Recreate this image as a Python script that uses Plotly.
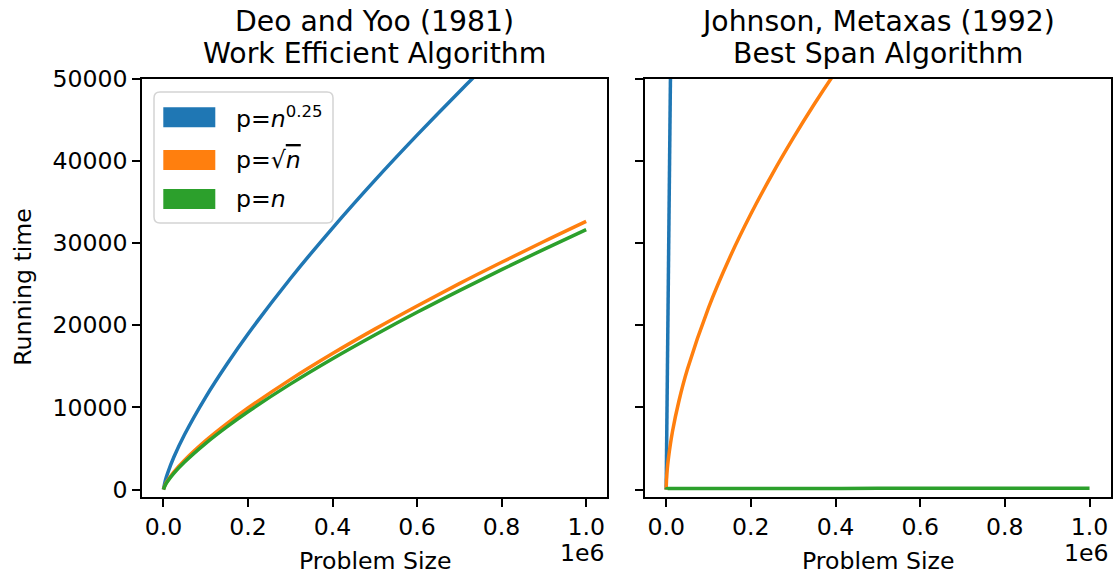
import plotly.graph_objects as go

W, H = 1114, 581
FONT = "DejaVu Sans"
BLUE, ORANGE, GREEN = "#1f77b4", "#ff7f0e", "#2ca02c"

# ---- Deo and Yoo (1981): running time vs problem size ----
deo_n = [0, 5000, 10000, 25000, 50000, 100000, 150000, 200000, 300000,
         400000, 500000, 600000, 700000, 800000, 900000, 1000000]
deo_p_quarter = [0, 1190, 2000, 3980, 6690, 11250, 15240, 18920, 25640,
                 31810, 37610, 43110, 48400, 53500, 58440, 63250]
deo_p_sqrt = [0, 665, 1100, 2150, 3560, 5940, 8010, 9910, 13370,
              16540, 19510, 22330, 25040, 27640, 30170, 32620]
deo_p_n = [0, 595, 1000, 1990, 3340, 5620, 7620, 9460, 12820,
           15910, 18800, 21560, 24200, 26750, 29220, 31620]

# ---- Johnson, Metaxas (1992) ----
jm_quarter_n = [0, 2500, 5000, 7500, 10000, 12000]
jm_p_quarter = [0, 12000, 24500, 37000, 49500, 59500]
jm_sqrt_n = [0, 1000, 2500, 5000, 15000, 30000, 50000, 100000, 150000,
             200000, 250000, 300000, 350000, 400000, 500000, 1000000]
jm_p_sqrt = [0, 1395, 2420, 3660, 7080, 10740, 14590, 22110, 28200,
             33510, 38310, 42740, 46890, 50790, 58080, 88000]
jm_n_n = [0, 1000, 10000, 100000, 250000, 500000, 750000, 1000000]
jm_p_n = [0, 100, 115, 125, 132, 138, 142, 145]

x_ticks = [0, 200000, 400000, 600000, 800000, 1000000]
x_tick_text = ["0.0", "0.2", "0.4", "0.6", "0.8", "1.0"]
y_ticks = [0, 10000, 20000, 30000, 40000, 50000]
legend_labels = ["p=<i>n</i><sup>0.25</sup>",
                 "p=\u221a<span style='text-decoration:overline'><i>n</i></span>",
                 "p=<i>n</i>"]
legend_colors = [BLUE, ORANGE, GREEN]


def px(x):
    return x / W


def py(y):
    return 1 - y / H


LW = 3.5
fig = go.Figure()
fig.add_trace(go.Scatter(x=deo_n, y=deo_p_quarter, mode="lines", line=dict(color=BLUE, width=LW, shape="spline"), xaxis="x", yaxis="y"))
fig.add_trace(go.Scatter(x=deo_n, y=deo_p_sqrt, mode="lines", line=dict(color=ORANGE, width=LW, shape="spline"), xaxis="x", yaxis="y"))
fig.add_trace(go.Scatter(x=deo_n, y=deo_p_n, mode="lines", line=dict(color=GREEN, width=LW, shape="spline"), xaxis="x", yaxis="y"))
fig.add_trace(go.Scatter(x=jm_quarter_n, y=jm_p_quarter, mode="lines", line=dict(color=BLUE, width=LW), xaxis="x2", yaxis="y2"))
fig.add_trace(go.Scatter(x=jm_sqrt_n, y=jm_p_sqrt, mode="lines", line=dict(color=ORANGE, width=LW, shape="spline"), xaxis="x2", yaxis="y2"))
fig.add_trace(go.Scatter(x=jm_n_n, y=jm_p_n, mode="lines", line=dict(color=GREEN, width=LW, shape="spline"), xaxis="x2", yaxis="y2"))

# axes boxes (pixel positions)
L1, R1 = 142.3, 607.3
L2, R2 = 645.0, 1110.7
TOP, BOT = 78.5, 497.0
TICK_FONT = dict(family=FONT, size=23.6, color="black")

axis_common = dict(showline=True, mirror=True, linecolor="black", linewidth=1.9,
                   ticks="outside", ticklen=8, tickwidth=1.9, tickcolor="black",
                   showgrid=False, zeroline=False, tickfont=TICK_FONT, automargin=False)

fig.update_layout(
    width=W, height=H, margin=dict(l=0, r=0, t=0, b=0, pad=0, autoexpand=False),
    paper_bgcolor="white", plot_bgcolor="white", showlegend=False,
    font=dict(family=FONT, color="black"),
    xaxis=dict(domain=[px(L1), px(R1)], range=[-50000, 1050000], anchor="y",
               tickvals=x_ticks, ticktext=x_tick_text, **axis_common),
    yaxis=dict(domain=[py(BOT), py(TOP)], range=[-912, 50000], anchor="x",
               tickvals=y_ticks, ticktext=[str(v) for v in y_ticks], **axis_common),
    xaxis2=dict(domain=[px(L2), px(R2)], range=[-50000, 1050000], anchor="y2",
                tickvals=x_ticks, ticktext=x_tick_text, **axis_common),
    yaxis2=dict(domain=[py(BOT), py(TOP)], range=[-912, 50000], anchor="x2",
                tickvals=y_ticks, showticklabels=False, **axis_common),
)

ann = []
TITLE_FONT = dict(family=FONT, size=28.3, color="black")
LABEL_FONT = dict(family=FONT, size=23.6, color="black")
for cx, l1, l2 in [((L1 + R1) / 2, "Deo and Yoo (1981)", "Work Efficient Algorithm"),
                   ((L2 + R2) / 2, "Johnson, Metaxas (1992)", "Best Span Algorithm")]:
    ann.append(dict(x=px(cx), y=py(21), text=l1, font=TITLE_FONT))
    ann.append(dict(x=px(cx), y=py(53), text=l2, font=TITLE_FONT))
    ann.append(dict(x=px(cx), y=py(561), text="Problem Size", font=LABEL_FONT))
for rx in (R1, R2):
    ann.append(dict(x=px(rx), y=py(553), text="1e6", font=LABEL_FONT, xanchor="right"))
ann.append(dict(x=px(23), y=py((TOP + BOT) / 2), text="Running time", font=LABEL_FONT, textangle=-90))

# legend
shapes = []
bx0, bx1, by0, by1, r = 154, 333, 92, 223, 6
path = (f"M{px(bx0 + r)},{py(by0)} L{px(bx1 - r)},{py(by0)} Q{px(bx1)},{py(by0)} {px(bx1)},{py(by0 + r)} "
        f"L{px(bx1)},{py(by1 - r)} Q{px(bx1)},{py(by1)} {px(bx1 - r)},{py(by1)} "
        f"L{px(bx0 + r)},{py(by1)} Q{px(bx0)},{py(by1)} {px(bx0)},{py(by1 - r)} "
        f"L{px(bx0)},{py(by0 + r)} Q{px(bx0)},{py(by0)} {px(bx0 + r)},{py(by0)} Z")
shapes.append(dict(type="path", path=path, xref="paper", yref="paper",
                   fillcolor="rgba(255,255,255,0.8)", line=dict(color="#d4d4d4", width=1.5)))
for i, (lab, col) in enumerate(zip(legend_labels, legend_colors)):
    yc = [117.3, 160.0, 199.0][i]
    shapes.append(dict(type="rect", xref="paper", yref="paper",
                       x0=px(163.3), x1=px(215.3), y0=py(yc - 10), y1=py(yc + 10),
                       fillcolor=col, line=dict(width=0)))
    ann.append(dict(x=px(234), y=py(yc), text=lab, font=LABEL_FONT, xanchor="left"))

for a in ann:
    a.setdefault("xref", "paper")
    a.setdefault("yref", "paper")
    a.setdefault("showarrow", False)
    a.setdefault("xanchor", "center")
    a.setdefault("yanchor", "middle")

fig.update_layout(annotations=ann, shapes=shapes)
fig.write_html("out.html")
